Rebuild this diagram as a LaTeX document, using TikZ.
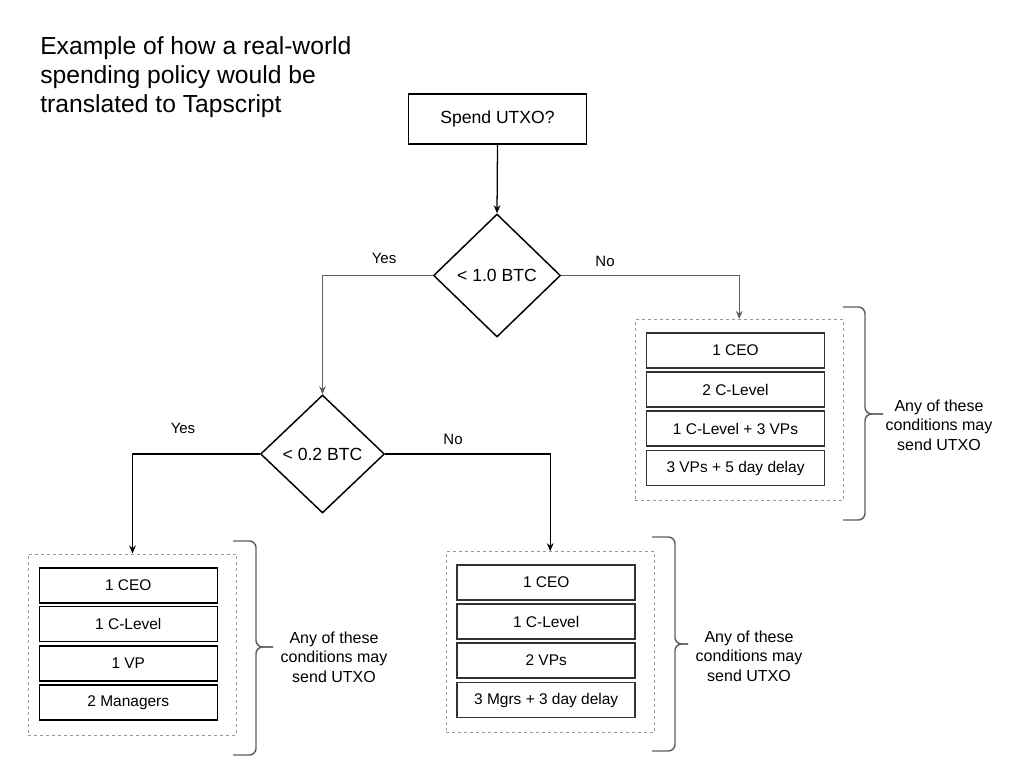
\documentclass[tikz,border=0pt]{standalone}
\usepackage{fontspec}
\setmainfont{Liberation Sans}
\usetikzlibrary{shapes.geometric,arrows.meta}
\definecolor{linegray}{HTML}{5E5E5E}
\definecolor{dashgray}{HTML}{9A9A9A}
\newcommand\mybrace[6]{%
  \draw[bracestyle] (#1,#4) -- (#2,#4) -- (#2,#5) -- (#3,#5);
  \draw[bracestyle] (#1,#6) -- (#2,#6) -- (#2,#5) -- (#3,#5);}
\tikzset{
  box/.style={draw=black, line width=1.1pt, rectangle, inner sep=0pt},
  startbox/.style={box, minimum width=133.5pt, minimum height=37.5pt, font=\fontsize{13.2pt}{15.8pt}\selectfont},
  decision/.style={draw=black, line width=1.1pt, diamond, inner sep=0pt, font=\fontsize{13.2pt}{15.8pt}\selectfont},
  item/.style={box, minimum width=133.5pt, minimum height=26.25pt, font=\fontsize{11.6pt}{14pt}\selectfont},
  itemgray/.style={item, draw=black!80},
  group/.style={draw=dashgray, line width=0.75pt, dash pattern=on 2.25pt off 2.25pt, rectangle, inner sep=0pt, minimum width=156.2pt, minimum height=135.75pt},
  note/.style={align=center, font=\fontsize{12pt}{14.6pt}\selectfont, inner sep=0pt},
  lbl/.style={font=\fontsize{11.25pt}{13pt}\selectfont, inner sep=0pt},
  arr/.style={line width=0.95pt, -{Stealth[length=6pt,width=5pt]}},
  grayarr/.style={arr, draw=linegray, line width=1.05pt},
  bracestyle/.style={draw=linegray, line width=1.1pt, rounded corners=5pt},
}
\begin{document}
\begin{tikzpicture}[x=0.75pt, y=-0.75pt]
\useasboundingbox (0,0) rectangle (1019,780);

\node[anchor=west, align=left, inner sep=0pt, font=\fontsize{18.5pt}{21.75pt}\selectfont] (title) at (40,77)
  {Example of how a real-world\\spending policy would be\\translated to Tapscript};

\node[startbox] (spend) at (497.5,119) {Spend UTXO?};
\node[decision, minimum width=95.25pt, minimum height=92.25pt] (d1) at (497,275.5) {< 1.0 BTC};
\node[decision, minimum width=93pt, minimum height=88.5pt] (d2) at (322.5,454) {< 0.2 BTC};

% groups
\node[group] (rgrp) at (739.2,410) {};
\node[group] (lgrp) at (132.5,644.5) {};
\node[group] (mgrp) at (550.2,642.2) {};

% right list
\node[itemgray] (r1) at (735.5,350.5) {1 CEO};
\node[itemgray] (r2) at (735.5,389.5) {2 C-Level};
\node[itemgray] (r3) at (735.5,428.7) {1 C-Level + 3 VPs};
\node[itemgray] (r4) at (735.5,468) {3 VPs + 5 day delay};

% left list
\node[item] (l1) at (128.3,585.3) {1 CEO};
\node[item] (l2) at (128.3,624) {1 C-Level};
\node[item] (l3) at (128.3,663.3) {1 VP};
\node[item] (l4) at (128.3,702.3) {2 Managers};

% middle list
\node[itemgray] (m1) at (546.2,582.5) {1 CEO};
\node[itemgray] (m2) at (546.2,621.7) {1 C-Level};
\node[itemgray] (m3) at (546.2,660.5) {2 VPs};
\node[itemgray] (m4) at (546.2,700) {3 Mgrs + 3 day delay};

% connectors
\draw[arr] (spend.south) -- (d1.north);
\draw[grayarr] (d1.west) -| (d2.north);
\draw[grayarr] (d1.east) -| (rgrp.north);
\draw[arr] (d2.west) -| (lgrp.north);
\draw[arr] (d2.east) -| (mgrp.north);

% labels
\node[lbl] (yes1) at (384,258) {Yes};
\node[lbl] (no1) at (605,261) {No};
\node[lbl] (yes2) at (183,428) {Yes};
\node[lbl] (no2) at (453,439) {No};

% braces
\mybrace{843}{865}{883}{307}{414}{520}
\mybrace{233}{256}{273}{541}{647}{755}
\mybrace{652}{675}{688}{537}{644}{751}

% notes
\node[note] (rnote) at (939,425) {Any of these\\conditions may\\send UTXO};
\node[note] (lnote) at (334,657) {Any of these\\conditions may\\send UTXO};
\node[note] (mnote) at (749,656) {Any of these\\conditions may\\send UTXO};
\end{tikzpicture}
\end{document}
